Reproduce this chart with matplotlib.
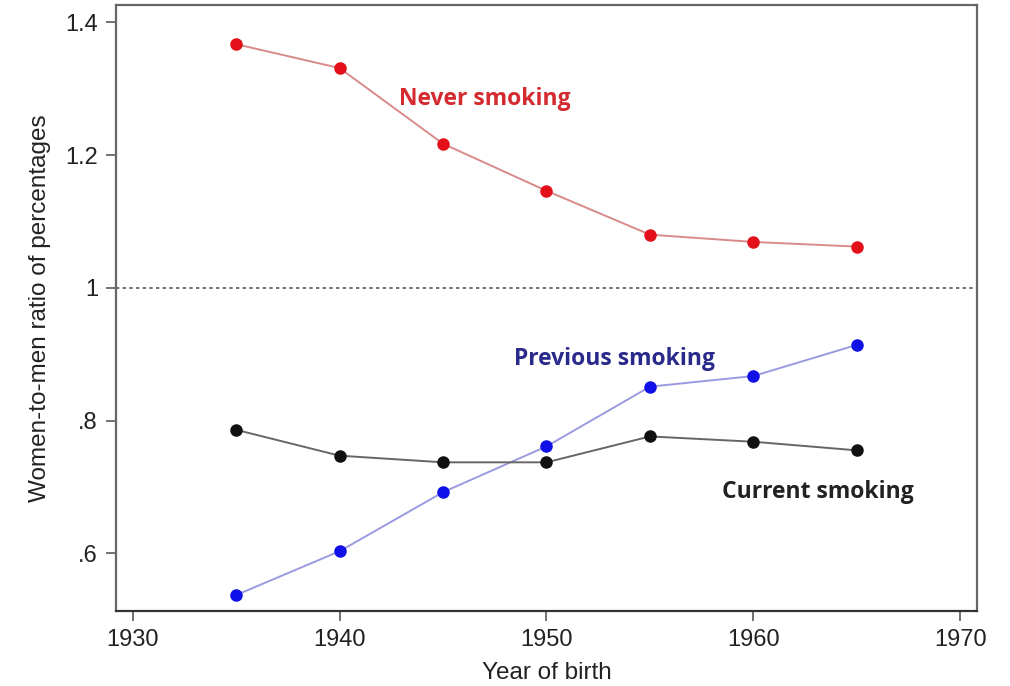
import matplotlib.pyplot as plt

years = [1935, 1940, 1945, 1950, 1955, 1960, 1965]
never = [1.367, 1.331, 1.217, 1.146, 1.080, 1.069, 1.062]
previous = [0.537, 0.603, 0.692, 0.761, 0.851, 0.867, 0.914]
current = [0.786, 0.747, 0.737, 0.737, 0.776, 0.768, 0.755]

x_ticks = [1930, 1940, 1950, 1960, 1970]
y_ticks = [0.6, 0.8, 1.0, 1.2, 1.4]
y_labels = ['.6', '.8', '1', '1.2', '1.4']

plt.rcParams['font.family'] = ['Liberation Sans', 'DejaVu Sans']

fig = plt.figure(figsize=(10.1, 6.86), dpi=100)
ax = fig.add_axes([116 / 1010, 1 - 611 / 686, (977 - 116) / 1010, (611 - 5) / 686])

# 参考线 y=1
ax.axhline(1.0, color='#555555', linestyle=(0, (2, 2)), linewidth=1.2, zorder=1)

ax.plot(years, never, color='#d88a8a', linewidth=1.4, zorder=2)
ax.plot(years, never, 'o', color='#e3101a', markersize=8, zorder=3)
ax.plot(years, previous, color='#9a9ae0', linewidth=1.4, zorder=2)
ax.plot(years, previous, 'o', color='#1010e8', markersize=8, zorder=3)
ax.plot(years, current, color='#666666', linewidth=1.4, zorder=2)
ax.plot(years, current, 'o', color='#111111', markersize=8, zorder=3)

lab_font = ['Open Sans', 'DejaVu Sans']
ax.text(1942.85, 1.284, 'Never smoking', color='#d42a30', fontsize=16.5,
        fontweight='bold', family=lab_font, va='center')
ax.text(1948.45, 0.893, 'Previous smoking', color='#2a2a8c', fontsize=16.5,
        fontweight='bold', family=lab_font, va='center')
ax.text(1958.5, 0.693, 'Current smoking', color='#222222', fontsize=16.5,
        fontweight='bold', family=lab_font, va='center')

ax.set_xlim(1929.2, 1970.8)
ax.set_ylim(0.513, 1.426)
ax.set_xticks(x_ticks)
ax.set_yticks(y_ticks)
ax.set_yticklabels(y_labels)
ax.tick_params(axis='both', labelsize=17, length=7, width=1.3, color='#666666',
               labelcolor='#222222', pad=6)

for s in ax.spines.values():
    s.set_color('#666666')
    s.set_linewidth(1.6)
ax.spines['bottom'].set_color('#333333')

ax.set_xlabel('Year of birth', fontsize=17.5, color='#222222', labelpad=8)
ax.set_ylabel('Women-to-men ratio of percentages', fontsize=17.5, color='#222222',
              labelpad=10)

plt.savefig('out.png', dpi=100)
